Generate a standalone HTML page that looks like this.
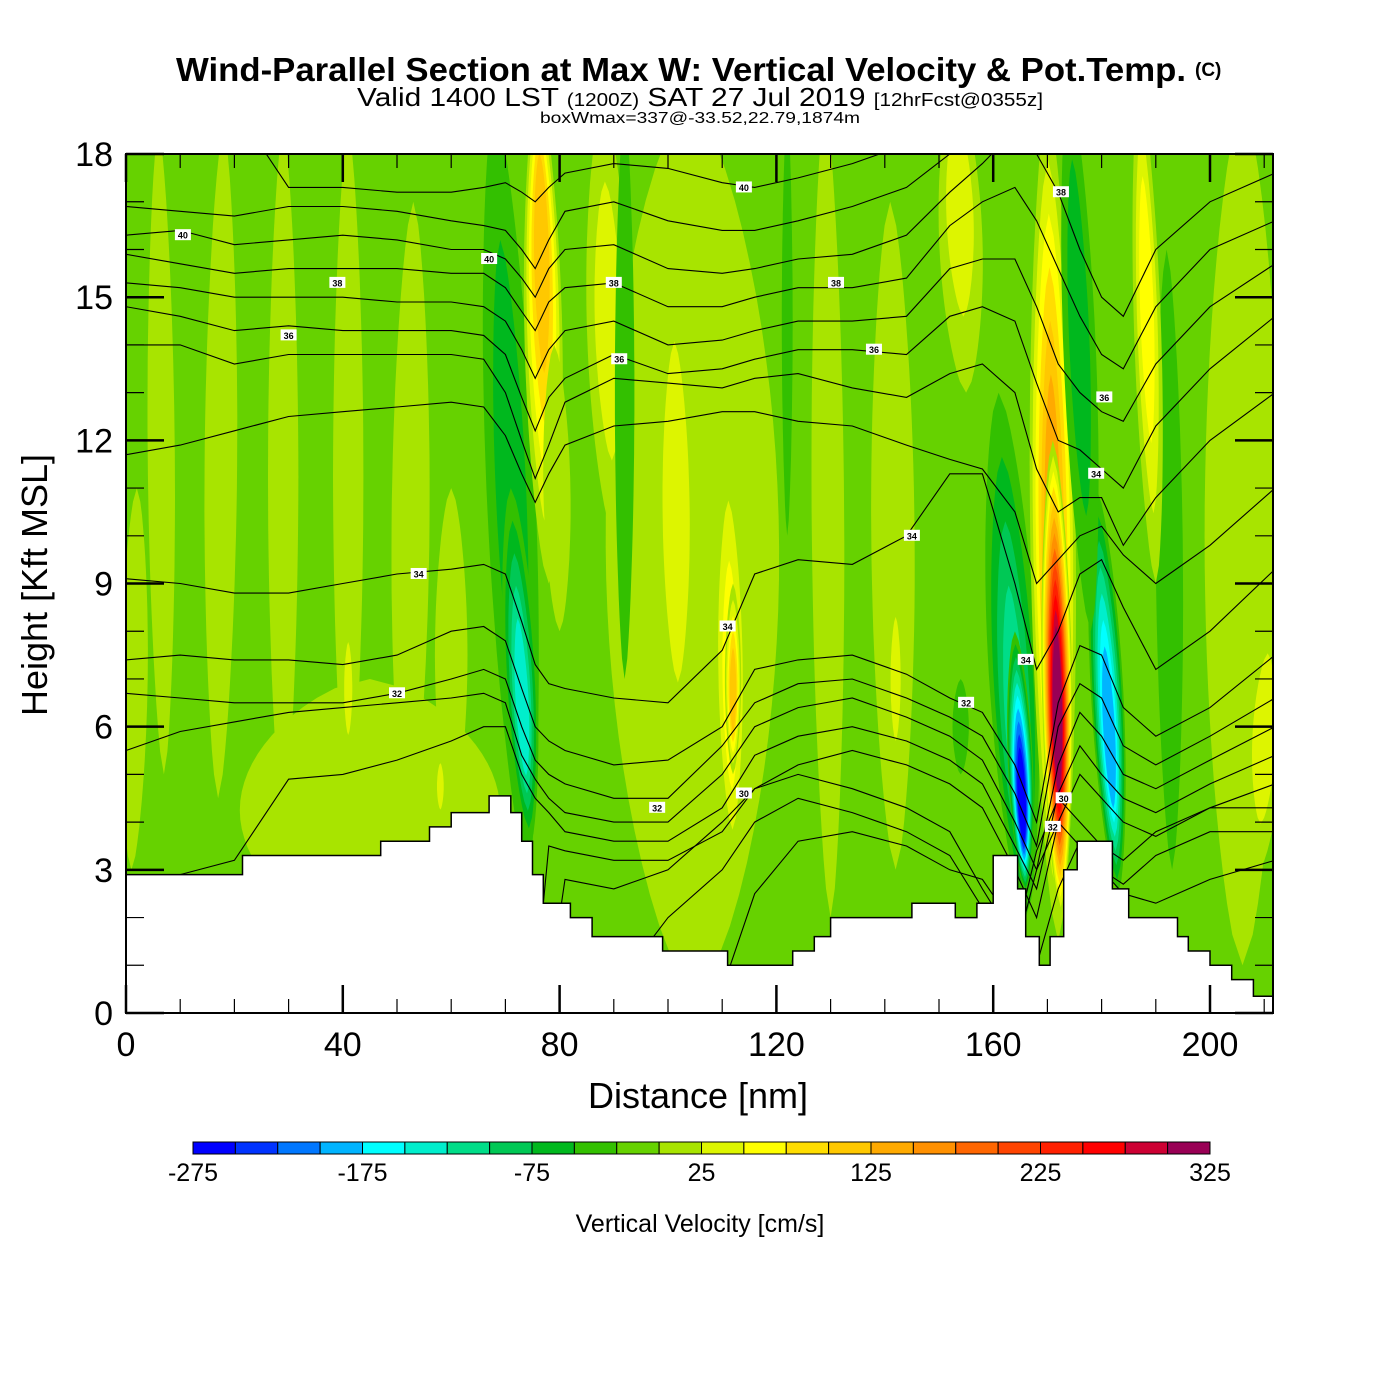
<!DOCTYPE html>
<html><head><meta charset="utf-8">
<style>
html,body{margin:0;padding:0;background:#fff;}
svg{display:block;font-family:"Liberation Sans",Arial,sans-serif;}
</style></head>
<body>
<svg id="chart" width="1400" height="1400" viewBox="0 0 1400 1400" xmlns="http://www.w3.org/2000/svg">
  <defs><clipPath id="plotClip"><rect x="126" y="154" width="1147" height="859"/></clipPath></defs>
  <text x="176" y="81" font-size="33" font-weight="bold" textLength="1010" lengthAdjust="spacingAndGlyphs">Wind-Parallel Section at Max W: Vertical Velocity &amp; Pot.Temp.</text>
  <text x="1195" y="76" font-size="19" font-weight="bold">(C)</text>
  <text x="357" y="106" font-size="26" textLength="686" lengthAdjust="spacingAndGlyphs">Valid 1400 LST <tspan font-size="18">(1200Z)</tspan> SAT 27 Jul 2019 <tspan font-size="18">[12hrFcst@0355z]</tspan></text>
  <text x="540" y="123" font-size="16" textLength="320" lengthAdjust="spacingAndGlyphs">boxWmax=337@-33.52,22.79,1874m</text>
  <rect x="126" y="154" width="1147" height="859" fill="#66d200"/>
  <g id="field" clip-path="url(#plotClip)"></g>
  <g id="isen" clip-path="url(#plotClip)"></g>
  <g id="terrain"></g>
  <g id="labels" clip-path="url(#plotClip)"></g>
  <rect x="126" y="154" width="1147" height="859" fill="none" stroke="#000" stroke-width="2"/>
  <g id="axes"></g>
  <text x="698" y="1108" text-anchor="middle" font-size="36">Distance [nm]</text>
  <text transform="translate(47,585) rotate(-90)" text-anchor="middle" font-size="36">Height [Kft MSL]</text>
  <g id="cbar"></g>
  <text x="700" y="1232" text-anchor="middle" font-size="25">Vertical Velocity [cm/s]</text>
</svg>
<script>
// ---- data ----
const binColors = ["#0000ff","#0033ff","#0077ff","#00b4ff","#00ffff","#00eecc","#00dd88","#00c855","#00b81e","#33c000","#66d200","#a8e400","#ddf500","#ffff00","#ffdd00","#ffc800","#ffaa00","#ff9000","#ff6600","#ff4400","#ff2000","#ff0000","#cc0033","#990055"];
const cbarLabels = [-275,-175,-75,25,125,225,325];
// velocity streaks: bottom distance/height, top distance/height, half-width (nm), peak w (cm/s), peak position
const sX0 = [105, 45, 1, 7, 17, 29, 41, 52, 60, 41, 58, 74, 74.5, 78, 80, 90, 92, 102, 112, 112, 122, 130, 142, 142, 155, 154, 206, 209, 193, 166, 166, 172, 172.5, 183, 178, 190];
const sH0 = [0.5, 1.5, 3, 5, 4.5, 4, 4, 3.5, 4, 5.3, 4, 3, 3.5, 9, 8, 10, 7, 5, 3, 5, 10, 2, 3, 5, 13, 5, 1, 3, 3, 2, 2.5, 1.5, 2, 2.5, 8, 9];
const sX1 = [104, 45, 2, 6, 18, 29, 41, 53, 60, 41, 58, 68, 71, 76, 79, 88, 92, 101, 111, 112, 122, 129, 141, 142, 153, 154, 206, 211, 192, 161, 164, 170, 171, 179, 174, 187];
const sH1 = [19, 7, 11, 18.5, 18.5, 18.5, 18.5, 17, 11, 8.3, 5.5, 19, 11, 19.5, 14, 19, 19, 16, 12, 9, 19, 19, 17, 9, 19.5, 7, 19, 8.5, 16, 13, 8, 19, 12, 11, 19.5, 19.5];
const sW  = [16, 24, 2.5, 2.5, 3, 2.8, 2.8, 3.5, 3, 1.2, 1, 4.5, 3, 3.5, 2.5, 4, 1.8, 4, 3, 1.5, 1, 3, 4, 1.5, 4, 1.5, 7, 3.5, 2.5, 4.5, 2.3, 4.2, 2.8, 3, 3, 2.5];
const sV  = [18, 15, 15, 12, 12, 12, 12, 12, 12, 30, 30, -60, -140, 120, 20, 30, -45, 30, 60, 110, -45, 12, 20, 40, 50, -40, 15, 30, -40, -110, -270, 130, 310, -180, -70, 55];
const sP  = [0.5, 0.5, 0.5, 0.5, 0.5, 0.5, 0.5, 0.5, 0.5, 0.5, 0.5, 0.5, 0.35, 0.75, 0.5, 0.5, 0.5, 0.5, 0.4, 0.4, 0.5, 0.5, 0.5, 0.5, 0.7, 0.5, 0.5, 0.5, 0.5, 0.3, 0.3, 0.45, 0.4, 0.35, 0.6, 0.6];
// terrain steps
const terrX = [0,21.5,47,56,60,67,71,73,75,77,82,86,99,111,123,127,130,145,153,157,160,164.5,166,168.5,170.5,173,175.5,182,185,194,196,200,204,208,210.5];
const terrH = [2.9,3.3,3.6,3.9,4.2,4.55,4.2,3.6,2.9,2.3,2.0,1.6,1.3,1.0,1.3,1.6,2.0,2.3,2.0,2.3,3.3,2.6,1.6,1.0,1.6,3.0,3.6,2.6,2.0,1.6,1.3,1.0,0.7,0.35,0.35];
// isentropes (heights in kft at these distances)
const thDist = [0,10,20,30,40,50,60,66,70,73,75.5,78,81,90,100,110,116,124,134,144,152,158,164,168,172,176,180,184,190,200,212];
const th0 = [19,19,19,17.3,17.3,17.2,17.2,17.3,17.4,17.2,17.0,17.3,17.6,17.8,17.7,17.4,17.3,17.5,17.8,18.2,19,19,19,19,19,19,19,19,19,19,19];
const th1 = [16.9,16.8,16.7,16.9,16.9,16.8,16.6,16.5,16.4,16.0,15.6,16.2,16.8,17.0,16.6,16.4,16.4,16.6,16.9,17.3,18.0,18.8,19,19,19,19,19,19,19,19,19];
const th2 = [16.3,16.4,16.1,16.2,16.3,16.2,16.0,16.0,15.8,15.4,15.0,15.6,16.0,16.1,15.6,15.5,15.6,15.8,15.9,16.3,17.2,17.8,18.5,18.0,17.2,16.0,15.0,14.6,16.0,17.0,17.6];
const th3 = [15.9,15.7,15.5,15.6,15.6,15.6,15.5,15.5,15.2,14.7,14.3,14.9,15.2,15.3,14.8,14.8,15.0,15.2,15.2,15.4,16.5,17.0,17.3,16.6,15.6,14.6,13.8,13.5,14.8,16.0,16.6];
const th4 = [15.3,15.2,15.0,15.0,15.0,14.9,14.9,14.8,14.5,13.9,13.3,13.9,14.3,14.5,14.0,14.1,14.3,14.5,14.5,14.6,15.6,15.8,15.8,14.8,13.6,13.0,12.6,12.4,13.6,14.8,15.7];
const th5 = [14.8,14.6,14.3,14.4,14.3,14.3,14.3,14.2,13.8,12.9,12.2,12.9,13.3,13.8,13.4,13.5,13.7,13.9,13.9,13.8,14.6,14.8,14.5,13.2,12.0,11.8,11.4,11.0,12.3,13.5,14.6];
const th6 = [14.0,14.0,13.6,13.8,13.8,13.8,13.8,13.7,13.0,12.0,11.2,11.9,12.8,13.3,13.2,13.1,13.3,13.4,13.1,12.9,13.4,13.6,13.0,11.4,10.5,10.8,10.8,9.8,10.8,12.0,13.0];
const th7 = [11.7,11.9,12.2,12.5,12.6,12.7,12.8,12.7,12.1,11.3,10.7,11.3,11.9,12.3,12.4,12.6,12.6,12.4,12.3,11.9,11.6,11.4,10.5,9.0,9.5,10.0,10.2,9.6,9.0,9.8,11.0];
const th8 = [9.1,9.0,8.8,8.8,9.0,9.2,9.3,9.4,9.2,8.2,7.3,6.9,6.8,6.6,6.5,7.6,9.2,9.5,9.4,10.0,11.3,11.3,9.0,7.2,8.0,9.2,9.5,8.5,7.2,8.0,9.3];
const th9 = [7.4,7.5,7.4,7.4,7.3,7.5,8.0,8.1,7.8,6.8,6.0,5.7,5.5,5.2,5.3,6.0,7.2,7.4,7.5,7.1,6.6,6.3,5.2,4.0,6.5,7.7,7.5,6.4,5.8,6.4,7.5];
const th10 = [6.7,6.6,6.5,6.5,6.5,6.7,7.0,7.2,7.0,6.0,5.3,5.0,4.8,4.5,4.5,5.6,6.5,6.9,7.0,6.6,6.2,5.8,4.6,3.5,6.0,6.9,6.6,5.6,5.2,5.8,6.6];
const th11 = [5.5,5.9,6.1,6.3,6.4,6.5,6.6,6.7,6.5,5.4,4.9,4.5,4.2,4.0,4.0,5.0,6.0,6.4,6.6,6.2,5.8,5.3,4.0,3.0,5.2,6.3,5.8,5.0,4.7,5.3,6.0];
const th12 = [2.9,2.9,3.2,4.9,5.0,5.3,5.7,6.0,6.0,5.0,4.5,4.2,3.8,3.6,3.6,4.3,5.4,5.8,6.0,5.7,5.3,4.8,3.5,2.6,4.6,5.6,5.0,4.5,4.2,4.8,5.4];
const th13 = [0.5,0.5,0.5,0.5,0.5,0.5,0.5,0.5,0.5,0.5,0.5,3.5,3.4,3.2,3.2,3.8,4.7,5.2,5.5,5.2,4.8,4.3,3.0,2.0,4.0,5.0,4.5,4.0,3.7,4.3,4.8];
const th14 = [0.5,0.5,0.5,0.5,0.5,0.5,0.5,0.5,0.5,0.5,0.5,0.5,2.8,2.6,3.0,4.0,4.7,5.0,4.7,4.3,3.8,2.6,1.5,3.4,4.5,4.0,3.5,3.2,3.8,4.3,4.3];
const th15 = [0.5,0.5,0.5,0.5,0.5,0.5,0.5,0.5,0.5,0.5,0.5,0.5,0.5,0.5,2.0,3.0,4.0,4.5,4.2,3.8,3.3,2.2,1.2,3.0,4.0,3.5,3.0,2.7,3.3,3.8,3.8];
const th16 = [0.5,0.5,0.5,0.5,0.5,0.5,0.5,0.5,0.5,0.5,0.5,0.5,0.5,0.5,0.5,0.5,2.5,3.6,3.8,3.5,3.0,2.8,1.8,1.0,2.6,3.6,3.0,2.5,2.3,2.8,3.2];
const thLines = [th0,th1,th2,th3,th4,th5,th6,th7,th8,th9,th10,th11,th12,th13,th14,th15,th16];
const lblDist = [10.5,39,30,67,54,50,90,91,114,131,138,145,111,98,114,155,166,172.5,180.5,179,173,171];
const lblH = [16.3,15.3,14.2,15.8,9.2,6.7,15.3,13.7,17.3,15.3,13.9,10.0,8.1,4.3,4.6,6.5,7.4,17.2,12.9,11.3,4.5,3.9];
const lblText = ["40","38","36","40","34","32","38","36","40","38","36","34","34","32","30","32","34","38","36","34","30","32"];
const xTicks = [0,40,80,120,160,200];
const yTicks = [0,3,6,9,12,15,18];

// ---- scales ----
const NS = "http://www.w3.org/2000/svg";
const X = d => 126 + d * 5.42;
const Y = h => 1013 - h * 47.72;
function binOf(v){ return Math.max(0, Math.min(23, Math.floor((v + 275) / 25))); }
function mk(tag, attrs, parent){ const e = document.createElementNS(NS, tag); for (const k in attrs) e.setAttribute(k, attrs[k]); parent.appendChild(e); return e; }

// ---- field ----
const field = document.getElementById('field');
for (let i = 0; i < sV.length; i++) {
  const v = sV[i];
  const thr = [];
  if (v > 0) { for (let t = 0; t < v; t += 25) thr.push(t + 12); }
  else { for (let t = -25; t > v; t -= 25) thr.push(t - 12); }
  const n = thr.length;
  for (let k = 0; k < n; k++) {
    const f = k / n;
    const a = sP[i] * f * 0.7, b = 1 - (1 - sP[i]) * f * 0.7;
    const W = sW[i] * (1 - 0.75 * f) * 5.42;
    const N = 28, L = [], R = [];
    for (let j = 0; j <= N; j++) {
      const s = j / N, t = a + (b - a) * s;
      const hw = W * Math.pow(Math.sin(Math.PI * s), 0.6);
      const cx = X(sX0[i] + (sX1[i] - sX0[i]) * t), cy = Y(sH0[i] + (sH1[i] - sH0[i]) * t);
      L.push((cx - hw).toFixed(1) + ',' + cy.toFixed(1));
      R.unshift((cx + hw).toFixed(1) + ',' + cy.toFixed(1));
    }
    const p = mk('polygon', {points: L.concat(R).join(' '), fill: binColors[binOf(thr[k])]}, field);
    
    
  }
}

// ---- isentropes ----
const isen = document.getElementById('isen');
thLines.forEach((arr) => {
  const d = arr.map((h, j) => (j ? 'L' : 'M') + X(thDist[j]).toFixed(1) + ',' + Y(h).toFixed(1)).join(' ');
  const p = mk('path', {d: d, fill: 'none', stroke: '#000', 'stroke-width': 1.1}, isen);
  
  
});

// ---- terrain ----
const terr = document.getElementById('terrain');
let tp = 'M' + X(0) + ',' + Y(0);
for (let i = 0; i < terrX.length; i++) {
  const xe = i + 1 < terrX.length ? terrX[i + 1] : 211.6;
  tp += ' L' + X(terrX[i]).toFixed(1) + ',' + Y(terrH[i]).toFixed(1) + ' L' + X(xe).toFixed(1) + ',' + Y(terrH[i]).toFixed(1);
}
tp += ' L' + X(211.6) + ',' + Y(0) + ' Z';
const tpath = mk('path', {d: tp, fill: '#fff', stroke: '#000', 'stroke-width': 1.5}, terr);



// ---- isentrope labels ----
const lg = document.getElementById('labels');
for (let i = 0; i < lblText.length; i++) {
  const g = mk('g', {}, lg);
  
  
  mk('rect', {x: X(lblDist[i]) - 8, y: Y(lblH[i]) - 6, width: 16, height: 11, fill: '#fff'}, g);
  const t = mk('text', {x: X(lblDist[i]), y: Y(lblH[i]) + 3.5, 'text-anchor': 'middle', 'font-size': 9, 'font-weight': 'bold'}, g);
  t.textContent = lblText[i];
}

// ---- axes ----
const ax = document.getElementById('axes');
for (let d = 0; d <= 210; d += 10) {
  const major = d % 40 === 0, len = major ? 28 : 14;
  mk('line', {x1: X(d), x2: X(d), y1: 1013, y2: 1013 - len, stroke: '#000', 'stroke-width': major ? 2.5 : 1.2}, ax);
  mk('line', {x1: X(d), x2: X(d), y1: 154, y2: 154 + len, stroke: '#000', 'stroke-width': major ? 2.5 : 1.2}, ax);
}
for (let h = 0; h <= 18; h += 1) {
  const major = h % 3 === 0, len = major ? 38 : 18;
  mk('line', {x1: 126, x2: 126 + len, y1: Y(h), y2: Y(h), stroke: '#000', 'stroke-width': major ? 2.5 : 1.2}, ax);
  mk('line', {x1: 1273, x2: 1273 - len, y1: Y(h), y2: Y(h), stroke: '#000', 'stroke-width': major ? 2.5 : 1.2}, ax);
}
xTicks.forEach(d => {
  const t = mk('text', {x: X(d), y: 1056, 'text-anchor': 'middle', 'font-size': 34}, ax);
  
  
  t.textContent = d;
});
yTicks.forEach(h => {
  const t = mk('text', {x: 113, y: Y(h) + 12, 'text-anchor': 'end', 'font-size': 34}, ax);
  
  
  t.textContent = h;
});

// ---- colorbar ----
const cb = document.getElementById('cbar');
const cbX = v => 193 + (v + 275) / 600 * 1017;
binColors.forEach((c, i) => {
  const r = mk('rect', {x: cbX(-275 + i * 25), y: 1142, width: 1017 / 24, height: 12, fill: c, stroke: '#000', 'stroke-width': 1}, cb);
  
  
});
cbarLabels.forEach(v => {
  const t = mk('text', {x: cbX(v), y: 1181, 'text-anchor': 'middle', 'font-size': 25}, cb);
  
  
  t.textContent = v;
});
</script>
</body></html>
